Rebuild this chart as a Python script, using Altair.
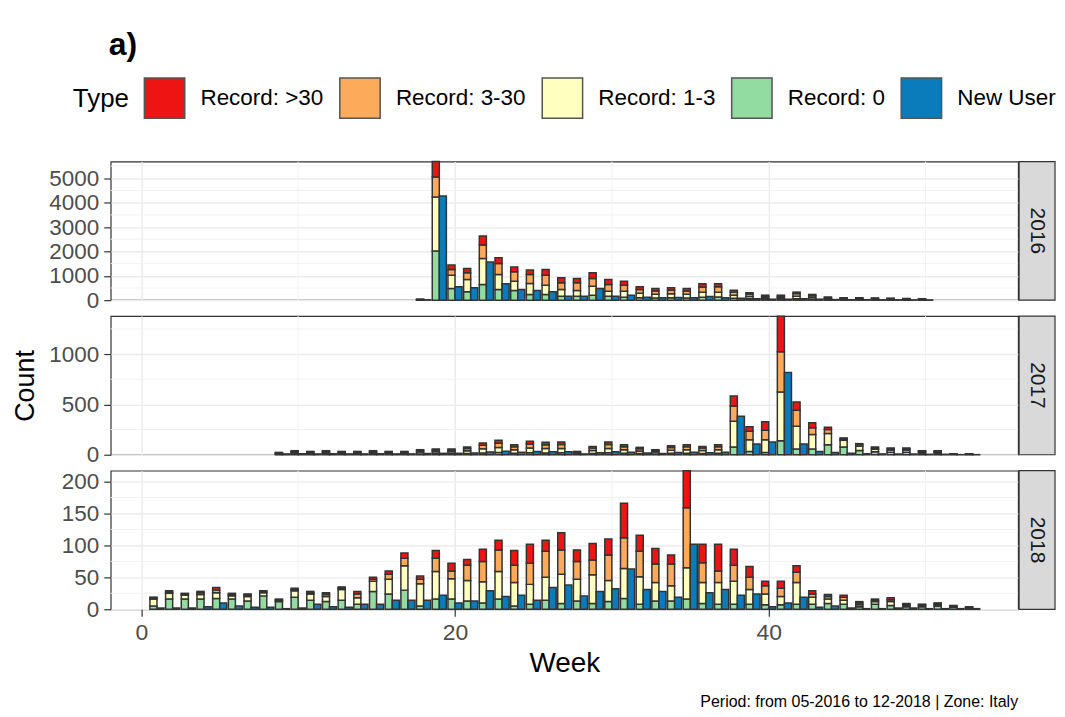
import altair as alt
import pandas as pd

TYPES = ["Record: >30", "Record: 3-30", "Record: 1-3", "Record: 0", "New User"]
COLORS = ["#EE1414", "#FDAA5A", "#FFFFC0", "#92DCA2", "#0B7CBB"]

# ---- 2016 (weeks 18..50) ----
weeks_2016 = list(range(18, 51))
rec0_2016 = [10, 2013, 481, 345, 645, 440, 398, 234, 234, 164, 164, 205, 164, 123, 100, 90, 100, 90,
             120, 130, 80, 60, 40, 40, 60, 45, 25, 20, 20, 15, 15, 12, 10]
rec1_2016 = [12, 2219, 546, 505, 1068, 616, 383, 452, 382, 276, 234, 370, 206, 247, 180, 150, 160, 150,
             200, 190, 120, 90, 60, 60, 100, 70, 40, 30, 30, 25, 25, 20, 18]
rec3_2016 = [10, 821, 234, 275, 547, 452, 386, 370, 411, 275, 317, 316, 275, 246, 160, 140, 150, 140,
             220, 230, 130, 100, 65, 65, 110, 75, 40, 30, 30, 30, 25, 23, 20]
rec30_2016 = [8, 633, 177, 177, 370, 234, 189, 177, 234, 205, 176, 234, 205, 165, 110, 100, 100, 100,
              134, 124, 80, 55, 40, 40, 60, 45, 25, 20, 20, 20, 15, 15, 12]
new_2016 = [15, 4270, 550, 509, 1561, 674, 440, 398, 345, 164, 164, 481, 164, 205, 120, 100, 110, 100,
            150, 100, 80, 60, 40, 40, 60, 40, 25, 20, 20, 15, 15, 12, 10]

# ---- 2017 (weeks 9..53) ----
weeks_2017 = list(range(9, 54))
rec0_2017 = [4, 6, 5, 6, 5, 5, 6, 5, 5, 8, 9, 9, 12, 18, 22, 15, 20, 18, 19, 5, 12, 19, 15, 11, 8, 14, 15,
             12, 15, 77, 33, 23, 140, 57, 57, 100, 77, 43, 30, 25, 25, 15, 15, 4, 3]
rec1_2017 = [8, 14, 12, 14, 12, 12, 14, 12, 12, 18, 20, 20, 27, 41, 50, 35, 46, 43, 44, 12, 29, 44, 35, 26,
             18, 31, 35, 29, 35, 256, 117, 127, 483, 226, 143, 110, 66, 40, 25, 22, 22, 13, 13, 3, 3]
rec3_2017 = [7, 12, 10, 12, 10, 10, 12, 10, 10, 15, 17, 17, 23, 35, 43, 30, 40, 37, 38, 10, 25, 38, 30, 22,
             15, 27, 30, 25, 30, 150, 83, 93, 400, 160, 67, 40, 14, 17, 12, 12, 12, 7, 7, 2, 1]
rec30_2017 = [4, 8, 6, 8, 6, 6, 8, 6, 6, 9, 11, 11, 15, 23, 28, 20, 27, 25, 26, 6, 17, 26, 20, 14, 9, 18,
              20, 17, 20, 100, 44, 84, 354, 80, 50, 23, 10, 10, 10, 8, 8, 5, 5, 1, 1]
new_2017 = [8, 10, 8, 10, 8, 8, 10, 8, 8, 12, 14, 14, 18, 28, 34, 24, 32, 30, 30, 8, 20, 30, 24, 18, 12,
            22, 24, 20, 24, 383, 107, 127, 817, 107, 33, 23, 15, 10, 8, 7, 7, 4, 4, 1, 1]

# ---- 2018 (weeks 1..53) ----
weeks_2018 = list(range(1, 54))
rec0_2018 = [5, 16, 16, 16, 17, 16, 13, 21, 12, 19, 14, 12, 14, 8, 28, 24, 30, 5, 16, 16, 13, 10, 16, 5,
             8, 14, 9, 13, 9, 12, 17, 8, 13, 13, 16, 9, 8, 8, 8, 7, 7, 8, 8, 9, 8, 4, 8, 6, 4, 4, 5, 3, 2]
rec1_2018 = [11, 9, 6, 7, 9, 5, 7, 5, 2, 10, 10, 8, 17, 10, 16, 23, 38, 35, 43, 32, 32, 33, 43, 37,
             31, 36, 46, 34, 45, 33, 47, 43, 29, 24, 49, 33, 34, 36, 23, 17, 13, 34, 11, 7, 6, 3, 4, 6,
             2, 2, 2, 1, 1]
rec3_2018 = [2, 2, 2, 3, 4, 2, 2, 2, 1, 2, 2, 3, 2, 6, 3, 8, 12, 7, 21, 12, 24, 32, 34, 27, 33, 41,
             38, 28, 23, 40, 48, 40, 29, 34, 94, 31, 18, 25, 19, 13, 13, 16, 5, 4, 5, 3, 2, 3, 2, 1,
             2, 1, 1]
rec30_2018 = [1, 2, 1, 2, 4, 2, 2, 1, 1, 2, 2, 3, 2, 4, 3, 5, 8, 5, 12, 12, 9, 19, 15, 23, 30, 17,
              27, 18, 26, 25, 54, 25, 24, 14, 58, 29, 42, 25, 17, 7, 11, 10, 5, 3, 3, 2, 2, 3, 1, 1,
              1, 1, 0]
new_2018 = [2, 2, 2, 4, 10, 5, 3, 3, 1, 2, 8, 4, 3, 8, 8, 14, 14, 14, 22, 10, 13, 29, 20, 22, 14, 34,
            38, 21, 28, 32, 63, 31, 28, 19, 102, 26, 31, 22, 24, 4, 10, 19, 3, 5, 2, 1, 1, 2, 2, 1, 1,
            1, 1]

YEARS = {
    2016: (weeks_2016, rec0_2016, rec1_2016, rec3_2016, rec30_2016, new_2016),
    2017: (weeks_2017, rec0_2017, rec1_2017, rec3_2017, rec30_2017, new_2017),
    2018: (weeks_2018, rec0_2018, rec1_2018, rec3_2018, rec30_2018, new_2018),
}

rows = []
for yr, (wk, r0, r1, r3, r30, nu) in YEARS.items():
    for i, w in enumerate(wk):
        rows.append(dict(year=yr, week=w, type="Record: 0", value=r0[i], order=0, kind="rec"))
        rows.append(dict(year=yr, week=w, type="Record: 1-3", value=r1[i], order=1, kind="rec"))
        rows.append(dict(year=yr, week=w, type="Record: 3-30", value=r3[i], order=2, kind="rec"))
        rows.append(dict(year=yr, week=w, type="Record: >30", value=r30[i], order=3, kind="rec"))
        rows.append(dict(year=yr, week=w, type="New User", value=nu[i], order=4, kind="new"))
df = pd.DataFrame(rows)

Y_TICKS = {2016: [0, 1000, 2000, 3000, 4000, 5000], 2017: [0, 500, 1000], 2018: [0, 50, 100, 150, 200]}
Y_MINOR = {2016: [500, 1500, 2500, 3500, 4500, 5500], 2017: [250, 750, 1250], 2018: [25, 75, 125, 175]}
X_TICKS = [0, 20, 40]
X_MINOR = [10, 30, 50]

W, H = 910, 139
FONT = "Liberation Sans"
xs = alt.Scale(domain=[-1.95, 55.9], nice=False, zero=False)
GRID = "#EBEBEB"
BAR_STROKE = "#333333"


def xaxis(last):
    kw = dict(values=X_TICKS, grid=True, gridColor=GRID, gridWidth=1.4, domain=False, format="d")
    if last:
        kw.update(labels=True, ticks=True, tickSize=7, tickColor="#333333", tickWidth=1.2,
                  labelFontSize=23, labelColor="#4D4D4D", labelPadding=5, title="Week",
                  titleFontSize=28, titleFontWeight="normal", titleColor="#000000", titlePadding=5)
    else:
        kw.update(labels=False, ticks=False, title=None, labelPadding=0, titlePadding=0)
    return alt.Axis(**kw)


def yaxis(year, middle):
    kw = dict(values=Y_TICKS[year], grid=True, gridColor=GRID, gridWidth=1.4, domain=False,
              tickSize=7, tickColor="#333333", tickWidth=1.2, labelFontSize=22.5, labelColor="#4D4D4D",
              labelPadding=5, format="d")
    if middle:
        kw.update(title="Count", titleFontSize=27, titleFontWeight="normal", titleColor="#000000",
                  titlePadding=9)
    else:
        kw.update(title=None)
    return alt.Axis(**kw)


color = alt.Color("type:N", scale=alt.Scale(domain=TYPES, range=COLORS),
                  legend=alt.Legend(title="Type"))


def panel(year, first=False, middle=False, last=False):
    d = df[df.year == year]
    ya = yaxis(year, middle)
    xa = xaxis(last)
    ysc = alt.Scale(nice=False, zero=True)

    minor_x = alt.Chart(pd.DataFrame({"v": X_MINOR})).mark_rule(color="#F2F2F2", strokeWidth=1).encode(
        x=alt.X("v:Q", scale=xs, axis=xa))
    minor_y = alt.Chart(pd.DataFrame({"v": Y_MINOR[year]})).mark_rule(color="#F2F2F2", strokeWidth=1).encode(
        y=alt.Y("v:Q", scale=ysc, axis=ya))

    rec = alt.Chart(d[d.kind == "rec"]).transform_stack(
        stack="value", groupby=["week"], sort=[alt.SortField("order", order="ascending")], as_=["y0", "y1"]
    ).transform_calculate(
        x0="datum.week - 0.45", x1="datum.week"
    ).mark_bar(stroke=BAR_STROKE, strokeWidth=1.5).encode(
        x=alt.X("x0:Q", scale=xs, axis=xa), x2="x1:Q",
        y=alt.Y("y1:Q", scale=ysc, axis=ya), y2="y0:Q",
        color=color)

    new = alt.Chart(d[d.kind == "new"]).transform_stack(
        stack="value", groupby=["week"], as_=["y0", "y1"]
    ).transform_calculate(
        x0="datum.week", x1="datum.week + 0.45"
    ).mark_bar(stroke=BAR_STROKE, strokeWidth=1.5).encode(
        x=alt.X("x0:Q", scale=xs, axis=xa), x2="x1:Q",
        y=alt.Y("y1:Q", scale=ysc, axis=ya), y2="y0:Q",
        color=color)

    lab = pd.DataFrame({"label": [str(year)]})
    strip = alt.Chart(lab).mark_rect(fill="#D9D9D9", stroke="#333333", strokeWidth=1.2).encode(
        x=alt.value(W + 1), x2=alt.value(W + 37), y=alt.value(0), y2=alt.value(H))
    strip_txt = alt.Chart(lab).mark_text(angle=90, fontSize=21, font=FONT, color="#1A1A1A",
                                         align="center", baseline="middle").encode(
        x=alt.value(W + 19), y=alt.value(H / 2), text="label:N")

    layers = [minor_x, minor_y, rec, new, strip, strip_txt]
    if first:
        ttl = alt.Chart(pd.DataFrame({"t": ["a)"]})).mark_text(
            fontSize=32, fontWeight="bold", font=FONT, color="#000000", align="left", baseline="middle"
        ).encode(x=alt.value(-2), y=alt.value(-117), text="t:N")
        layers.append(ttl)
    if last:
        cap = alt.Chart(pd.DataFrame({"t": ["Period: from 05-2016 to 12-2018 | Zone: Italy"]})).mark_text(
            fontSize=16, font=FONT, color="#000000", align="right", baseline="middle"
        ).encode(x=alt.value(W), y=alt.value(H + 93), text="t:N")
        layers.append(cap)
    return alt.layer(*layers).properties(width=W, height=H)


chart = alt.vconcat(
    panel(2016, first=True), panel(2017, middle=True), panel(2018, last=True), spacing=16, bounds="flush"
).resolve_scale(y="independent").properties(
    padding={"left": 3, "top": 19, "right": 0, "bottom": 0}
).configure(font=FONT).configure_view(
    stroke="#333333", strokeWidth=1.2
).configure_legend(
    orient="none", legendX=-38, legendY=-85, direction="horizontal", titleOrient="left",
    symbolType="square", symbolSize=1640, symbolStrokeColor="#555555", symbolStrokeWidth=1.5,
    labelFontSize=22.5, titleFontSize=26, titleFontWeight="normal", titleColor="#000000",
    labelColor="#000000", columnPadding=12, labelOffset=15, titlePadding=14, symbolOpacity=1,
    labelFont=FONT, titleFont=FONT, titleBaseline="middle", titleAnchor="middle"
)

chart.save("out.html", embed_options={"renderer": "svg", "actions": False})
